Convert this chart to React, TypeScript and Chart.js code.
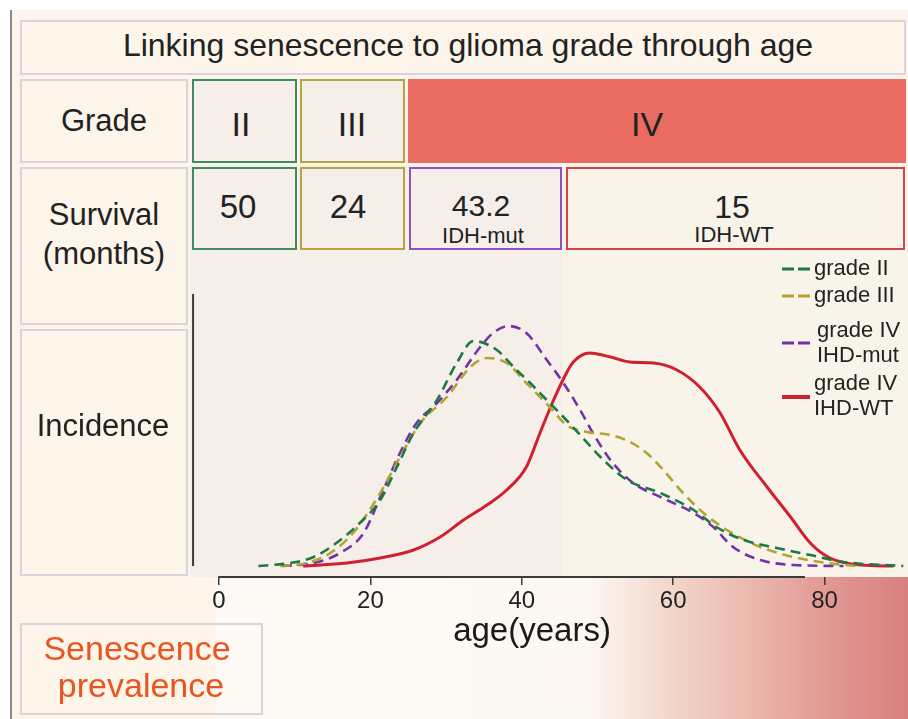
import React, { useEffect, useRef } from "react";
import { Chart, registerables } from "chart.js";

Chart.register(...registerables);

// ---------- data ----------
const tickValues = [0, 20, 40, 60, 80];
const xAxisTitle = "age(years)";

const gradeIIAge = [5.2, 9.4, 12.5, 15.5, 18.6, 21.3, 23.5, 25.7, 28.8, 31.4, 33.6, 36.7, 38.9, 41.1, 43.3, 45.5, 47.7, 50.8, 53.9, 58.3, 62.7, 65.7, 69.3, 73.7, 78.1, 82.5, 90.4];
const gradeIIDensity = [0, 0.03, 0.09, 0.23, 0.43, 0.66, 0.99, 1.33, 1.66, 2.03, 2.25, 2.16, 1.99, 1.83, 1.66, 1.49, 1.31, 1.06, 0.86, 0.73, 0.56, 0.39, 0.26, 0.18, 0.11, 0.04, 0.0];

const gradeIIIAge = [8.1, 11.6, 14.7, 17.7, 21.3, 23.9, 26.6, 30.1, 33.2, 35.4, 38.0, 40.6, 43.7, 45.9, 48.6, 51.7, 54.3, 56.5, 58.7, 61.3, 64.0, 67.1, 71.5, 75.9, 80.3, 84.2];
const gradeIIIDensity = [0, 0.03, 0.13, 0.33, 0.73, 1.09, 1.43, 1.69, 1.99, 2.08, 2.03, 1.83, 1.59, 1.41, 1.34, 1.31, 1.24, 1.13, 0.96, 0.73, 0.53, 0.36, 0.19, 0.09, 0.03, 0];

const gradeIVMutAge = [8.3, 12.5, 16.0, 19.1, 21.7, 23.9, 26.1, 28.8, 31.4, 34.5, 36.2, 38.2, 40.6, 43.3, 45.5, 47.7, 49.4, 51.7, 54.7, 58.3, 62.7, 65.3, 67.9, 71.5, 75.9, 82.5];
const gradeIVMutDensity = [0, 0.03, 0.13, 0.33, 0.76, 1.13, 1.43, 1.63, 1.86, 2.19, 2.33, 2.40, 2.33, 2.06, 1.83, 1.56, 1.33, 1.06, 0.83, 0.69, 0.53, 0.39, 0.19, 0.06, 0.01, 0];

const gradeIVWtAge = [11.1, 16.9, 21.3, 25.7, 29.2, 32.3, 35.4, 38.0, 40.6, 42.4, 44.2, 45.9, 46.8, 49.0, 51.7, 54.3, 57.4, 60.5, 63.5, 66.2, 68.8, 72.4, 75.5, 78.1, 80.7, 84.7, 89.1];
const gradeIVWtDensity = [0, 0.03, 0.08, 0.16, 0.29, 0.46, 0.61, 0.76, 0.99, 1.33, 1.66, 1.93, 2.04, 2.13, 2.09, 2.04, 2.03, 1.96, 1.79, 1.53, 1.16, 0.79, 0.49, 0.23, 0.08, 0.01, 0];

const seriesLabels = ["grade II", "grade III", "grade IV IHD-mut", "grade IV IHD-WT"];

// axis geometry (in data units)
const X_MIN = -7.93;
const X_MAX = 90.62;
const Y_MIN = -0.11;
const Y_MAX = 2.76;
const X_AXIS_END = 77.4;
const Y_AXIS_AT = -3.43;
const Y_AXIS_TOP = 2.72;

const FONT = "'Liberation Sans', Arimo, Arial, Helvetica, sans-serif";
const GREEN = "#1b7a44";
const OLIVE = "#b3a332";
const PURPLE = "#7333a8";
const RED = "#d0202f";

const toPoints = (xs: number[], ys: number[]) => xs.map((x, i) => ({ x, y: ys[i] }));

const axisLinesPlugin = {
  id: "axisLines",
  afterDatasetsDraw(chart: any) {
    const { ctx, chartArea, scales } = chart;
    const x = scales.x;
    const y = scales.y;
    ctx.save();
    ctx.strokeStyle = "#3a3a3a";
    ctx.lineWidth = 2;
    ctx.beginPath();
    ctx.moveTo(x.getPixelForValue(0) - 0.75, chartArea.bottom);
    ctx.lineTo(x.getPixelForValue(X_AXIS_END), chartArea.bottom);
    ctx.stroke();
    const yx = x.getPixelForValue(Y_AXIS_AT);
    ctx.beginPath();
    ctx.moveTo(yx, y.getPixelForValue(Y_AXIS_TOP));
    ctx.lineTo(yx, y.getPixelForValue(0));
    ctx.stroke();
    ctx.restore();
  },
};

function DensityChart() {
  const ref = useRef<HTMLCanvasElement | null>(null);
  useEffect(() => {
    if (!ref.current) return;
    const common = { pointRadius: 0, fill: false, cubicInterpolationMode: "monotone" as const, tension: 0.4 };
    const chart = new Chart(ref.current, {
      type: "line",
      data: {
        datasets: [
          { label: seriesLabels[0], data: toPoints(gradeIIAge, gradeIIDensity), borderColor: GREEN, borderWidth: 2.6, borderDash: [10, 6], ...common },
          { label: seriesLabels[1], data: toPoints(gradeIIIAge, gradeIIIDensity), borderColor: OLIVE, borderWidth: 2.6, borderDash: [10, 6], ...common },
          { label: seriesLabels[2], data: toPoints(gradeIVMutAge, gradeIVMutDensity), borderColor: PURPLE, borderWidth: 2.6, borderDash: [10, 6], ...common },
          { label: seriesLabels[3], data: toPoints(gradeIVWtAge, gradeIVWtDensity), borderColor: RED, borderWidth: 3, ...common },
        ],
      },
      options: {
        animation: false,
        responsive: false,
        events: [],
        layout: { padding: { left: 9, right: 3, top: 10, bottom: 0 } },
        plugins: { legend: { display: false }, tooltip: { enabled: false } },
        scales: {
          x: {
            type: "linear",
            min: X_MIN,
            max: X_MAX,
            afterBuildTicks: (s: any) => {
              s.ticks = tickValues.map((v) => ({ value: v }));
            },
            afterFit: (s: any) => {
              s.height = 83;
            },
            grid: { display: true, drawOnChartArea: false, drawTicks: true, tickLength: 8, color: "#3a3a3a", lineWidth: 1.5 },
            border: { display: false },
            ticks: { font: { size: 24, family: FONT }, color: "#222", padding: 2, maxRotation: 0, autoSkip: false },
            title: { display: true, text: xAxisTitle, font: { size: 33, family: FONT }, color: "#1a1a1a", padding: { top: 0, bottom: 8 } },
          },
          y: { display: false, min: Y_MIN, max: Y_MAX },
        },
      },
      plugins: [axisLinesPlugin],
    });
    return () => chart.destroy();
  }, []);
  return <canvas ref={ref} width={758} height={380} style={{ position: "absolute", left: 150, top: 280 }} />;
}

const LAV = "2px solid #ddd1e0";

function Box(p: { left: number; top: number; width: number; height: number; border?: string; bg?: string }) {
  return (
    <div
      style={{
        position: "absolute",
        left: p.left,
        top: p.top,
        width: p.width,
        height: p.height,
        boxSizing: "border-box",
        border: p.border,
        background: p.bg,
      }}
    />
  );
}

function Txt(p: { cx?: number; left?: number; cy: number; size: number; text: string; color?: string }) {
  const lh = Math.round(p.size * 1.2);
  const centered = p.cx !== undefined;
  return (
    <div
      style={{
        position: "absolute",
        left: centered ? (p.cx as number) - 500 : p.left,
        width: centered ? 1000 : undefined,
        top: p.cy - lh / 2,
        height: lh,
        lineHeight: lh + "px",
        fontSize: p.size,
        textAlign: centered ? "center" : "left",
        whiteSpace: "nowrap",
        color: p.color || "#222",
        fontFamily: FONT,
        pointerEvents: "none",
      }}
    >
      {p.text}
    </div>
  );
}

function Sample(p: { top: number; color: string; dashed: boolean }) {
  return (
    <svg width={30} height={10} style={{ position: "absolute", left: 782, top: p.top - 5 }}>
      <line x1={0} y1={5} x2={28} y2={5} stroke={p.color} strokeWidth={p.dashed ? 3 : 4} strokeDasharray={p.dashed ? "12 4" : undefined} />
    </svg>
  );
}

export default function App() {
  return (
    <div style={{ position: "absolute", left: 0, top: 0, width: 908, height: 719, overflow: "hidden", background: "#ffffff", fontFamily: FONT }}>
      {/* panel */}
      <div style={{ position: "absolute", left: 10, top: 10, width: 898, height: 709, background: "#fdf5ea", borderLeft: "2px solid #8a8a8a", boxSizing: "border-box" }} />
      {/* age bands */}
      <Box left={190} top={165} width={373} height={412} bg="#f6efe9" />
      <Box left={563} top={165} width={345} height={412} bg="#f9f4ea" />
      {/* senescence gradient */}
      <div
        style={{
          position: "absolute",
          left: 216,
          top: 577,
          width: 692,
          height: 142,
          background:
            "linear-gradient(to right, #fdfaf5 0%, #fcf7f1 54%, #f3d5ca 66%, #eab6ac 78%, #e19a94 88%, #d97f80 100%)",
        }}
      />
      {/* title */}
      <Box left={20} top={20} width={886} height={55} border={LAV} bg="#fdf5ea" />
      {/* grade row */}
      <Box left={20} top={79} width={168} height={84} border={LAV} bg="#fdf5ea" />
      <Box left={192} top={79} width={105} height={84} border="2px solid #3d8b5e" bg="#f6efe9" />
      <Box left={300} top={79} width={105} height={84} border="2px solid #b3a541" bg="#f6efe9" />
      <Box left={408} top={79} width={498} height={84} bg="#e96b62" />
      {/* survival row */}
      <Box left={20} top={167} width={168} height={158} border={LAV} bg="#fdf5ea" />
      <Box left={192} top={167} width={105} height={83} border="2px solid #3d8b5e" bg="#f6efe9" />
      <Box left={300} top={167} width={105} height={83} border="2px solid #b3a541" bg="#f6efe9" />
      <Box left={409} top={167} width={153} height={83} border="2px solid #8a55c0" bg="#f6efe9" />
      <Box left={566} top={167} width={339} height={83} border="2px solid #d9404a" bg="#f9f4ea" />
      {/* incidence label */}
      <Box left={20} top={329} width={168} height={247} border={LAV} bg="#fdf5ea" />
      {/* senescence box */}
      <Box left={20} top={623} width={243} height={92} border={LAV} />

      <DensityChart />

      <Txt cx={468} cy={45} size={32} text="Linking senescence to glioma grade through age" />
      <Txt cx={104} cy={120} size={31} text="Grade" />
      <Txt cx={241} cy={124} size={34} text="II" />
      <Txt cx={352} cy={124} size={34} text="III" />
      <Txt cx={647} cy={124} size={34} text="IV" />
      <Txt cx={104} cy={214} size={31} text="Survival" />
      <Txt cx={104} cy={253} size={31} text="(months)" />
      <Txt cx={238} cy={207} size={33} text="50" />
      <Txt cx={348} cy={207} size={33} text="24" />
      <Txt cx={481} cy={206} size={30} text="43.2" />
      <Txt cx={483} cy={236} size={22} text="IDH-mut" />
      <Txt cx={732} cy={207} size={32} text="15" />
      <Txt cx={734} cy={235} size={22} text="IDH-WT" />
      <Txt cx={103} cy={425} size={31} text="Incidence" />
      <Txt cx={137} cy={648} size={34} color="#e9541f" text="Senescence" />
      <Txt cx={141} cy={685} size={34} color="#e9541f" text="prevalence" />

      {/* legend */}
      <Sample top={269} color={GREEN} dashed />
      <Txt left={814} cy={268} size={22} text="grade II" />
      <Sample top={296} color={OLIVE} dashed />
      <Txt left={814} cy={295} size={22} text="grade III" />
      <Sample top={343} color={PURPLE} dashed />
      <Txt left={817} cy={330} size={22} text="grade IV" />
      <Txt left={817} cy={355} size={22} text="IHD-mut" />
      <Sample top={397} color={RED} dashed={false} />
      <Txt left={814} cy={383} size={22} text="grade IV" />
      <Txt left={814} cy={408} size={22} text="IHD-WT" />
    </div>
  );
}
